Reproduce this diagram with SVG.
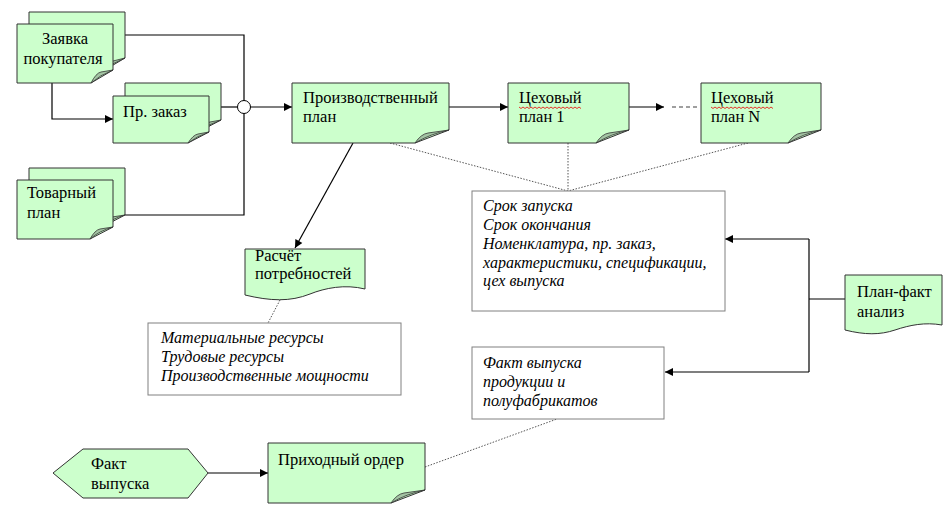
<svg xmlns="http://www.w3.org/2000/svg" width="952" height="519" viewBox="0 0 952 519">
<defs>
<marker id="arr" viewBox="0 0 10 10" refX="10" refY="5" markerWidth="10" markerHeight="8" markerUnits="userSpaceOnUse" orient="auto">
<path d="M0,0 L10,5 L0,10 Z" fill="#000"/>
</marker>
<style>
.pg{fill:#ccffcc;stroke:#333;stroke-width:1}
.fold{fill:#a3c4a3;stroke:#333;stroke-width:0.8}
.box{fill:#fff;stroke:#808080;stroke-width:1}
.ln{fill:none;stroke:#000;stroke-width:1.2}
.dot{fill:none;stroke:#555;stroke-width:1;stroke-dasharray:1.5,1.5}
.t{font-family:"Liberation Serif","Times New Roman","DejaVu Serif",serif;font-size:16.5px;fill:#000}
.i{font-family:"Liberation Serif","Times New Roman","DejaVu Serif",serif;font-size:16px;font-style:italic;fill:#000}
.sq{fill:none;stroke:#e00;stroke-width:0.8}
</style>
</defs>
<rect width="952" height="519" fill="#fff"/>

<g id="connectors">
<polyline class="ln" points="125,35 244,35 244,215 125,215"/>
<line class="ln" x1="221" y1="107" x2="238" y2="107"/>
<polyline class="ln" points="52,83 52,119 113,119" marker-end="url(#arr)"/>
<line class="ln" x1="250" y1="107" x2="292" y2="107" marker-end="url(#arr)"/>
<line class="ln" x1="449" y1="107" x2="508" y2="107" marker-end="url(#arr)"/>
<line class="ln" x1="629" y1="107" x2="664" y2="107" marker-end="url(#arr)"/>
<line x1="672" y1="107" x2="698" y2="107" stroke="#808080" stroke-width="1.5" stroke-dasharray="4,3"/>
<line class="ln" x1="353" y1="143" x2="295" y2="248" marker-end="url(#arr)"/>
<line class="dot" x1="390" y1="143" x2="568" y2="191"/>
<line class="dot" x1="568" y1="143" x2="568" y2="191" stroke="#999"/>
<line class="dot" x1="748" y1="143" x2="568" y2="191"/>
<line class="dot" x1="280" y1="300" x2="268" y2="323"/>
<line class="dot" x1="425" y1="467" x2="557" y2="419"/>
<polyline class="ln" points="845,299 809,299"/>
<polyline class="ln" points="809,239 809,372"/>
<line class="ln" x1="809" y1="239" x2="725" y2="239" marker-end="url(#arr)"/>
<line class="ln" x1="809" y1="372" x2="665" y2="372" marker-end="url(#arr)"/>
<line class="ln" x1="208" y1="473" x2="268" y2="473" marker-end="url(#arr)"/>
<circle cx="244" cy="107" r="6.5" fill="#fff" stroke="#000" stroke-width="1"/>
</g>

<g id="zayavka">
<path class="pg" d="M29,12 H125 V58 L103,71 H29 Z"/>
<path class="fold" d="M103,71 Q108,62 113,61 L125,58 Q112,63 103,71 Z"/>
<path class="pg" d="M17,24 H113 V70 L91,83 H17 Z"/>
<path class="fold" d="M91,83 Q96,73 101,72 L113,70 Q100,75 91,83 Z"/>
<text class="t" x="65" y="44" text-anchor="middle">Заявка</text>
<text class="t" x="63" y="64" text-anchor="middle">покупателя</text>
</g>

<g id="pr-zakaz">
<path class="pg" d="M125,83 H221 V120 L200,131 H125 Z"/>
<path class="fold" d="M200,131 Q205,123 210,122 L221,120 Q209,124 200,131 Z"/>
<path class="pg" d="M113,96 H209 V132 L188,143 H113 Z"/>
<path class="fold" d="M188,143 Q193,135 198,134 L209,132 Q197,136 188,143 Z"/>
<text class="t" x="123" y="117">Пр. заказ</text>
</g>

<g id="tovarny">
<path class="pg" d="M29,168 H125 V215 L102,227 H29 Z"/>
<path class="fold" d="M102,227 Q107,218 112,217 L125,215 Q111,219 102,227 Z"/>
<path class="pg" d="M17,180 H113 V227 L90,239 H17 Z"/>
<path class="fold" d="M90,239 Q95,230 100,229 L113,227 Q99,231 90,239 Z"/>
<text class="t" x="27" y="198">Товарный</text>
<text class="t" x="27" y="218">план</text>
</g>

<g id="proizv-plan">
<path class="pg" d="M292,83 H449 V130 L415,143 H292 Z"/>
<path class="fold" d="M415,143 Q421,134 428,133 L449,130 Q430,134 415,143 Z"/>
<text class="t" x="303" y="103">Производственный</text>
<text class="t" x="303" y="122">план</text>
</g>

<g id="cekh-1">
<path class="pg" d="M508,83 H629 V130 L596,143 H508 Z"/>
<path class="fold" d="M596,143 Q602,134 609,133 L629,130 Q611,134 596,143 Z"/>
<text class="t" x="519" y="103">Цеховый</text>
<path class="sq" d="M519,107 l2,1.5 l2,-1.5 l2,1.5 l2,-1.5 l2,1.5 l2,-1.5 l2,1.5 l2,-1.5 l2,1.5 l2,-1.5 l2,1.5 l2,-1.5 l2,1.5 l2,-1.5 l2,1.5 l2,-1.5 l2,1.5 l2,-1.5 l2,1.5 l2,-1.5 l2,1.5 l2,-1.5 l2,1.5 l2,-1.5 l2,1.5 l2,-1.5 l2,1.5 l2,-1.5 l2,1.5 l2,-1.5 l2,1.5"/>
<text class="t" x="519" y="122">план 1</text>
</g>

<g id="cekh-n">
<path class="pg" d="M701,83 H821 V130 L788,143 H701 Z"/>
<path class="fold" d="M788,143 Q794,134 801,133 L821,130 Q803,134 788,143 Z"/>
<text class="t" x="711" y="103">Цеховый</text>
<path class="sq" d="M711,107 l2,1.5 l2,-1.5 l2,1.5 l2,-1.5 l2,1.5 l2,-1.5 l2,1.5 l2,-1.5 l2,1.5 l2,-1.5 l2,1.5 l2,-1.5 l2,1.5 l2,-1.5 l2,1.5 l2,-1.5 l2,1.5 l2,-1.5 l2,1.5 l2,-1.5 l2,1.5 l2,-1.5 l2,1.5 l2,-1.5 l2,1.5 l2,-1.5 l2,1.5 l2,-1.5 l2,1.5 l2,-1.5 l2,1.5"/>
<text class="t" x="711" y="122">план N</text>
</g>

<g id="srok-box">
<rect class="box" x="472" y="191" width="253" height="120"/>
<text class="i" x="483" y="211">Срок запуска</text>
<text class="i" x="483" y="230">Срок окончания</text>
<text class="i" x="483" y="249">Номенклатура, пр. заказ,</text>
<text class="i" x="483" y="268">характеристики, спецификации,</text>
<text class="i" x="483" y="286">цех выпуска</text>
</g>

<g id="raschet">
<path class="pg" d="M245,249 H365 V289 C345,284 325,288 310,294 C290,302 270,301 245,295 Z"/>
<text class="t" x="255" y="261">Расчёт</text>
<text class="t" x="255" y="279">потребностей</text>
</g>

<g id="resursy-box">
<rect class="box" x="148" y="323" width="253" height="72"/>
<text class="i" x="161" y="343">Материальные ресурсы</text>
<text class="i" x="161" y="362">Трудовые ресурсы</text>
<text class="i" x="161" y="381">Производственные мощности</text>
</g>

<g id="plan-fakt">
<path class="pg" d="M845,275 H942 V325 C925,322 910,325 895,330 C880,335 865,335 845,330 Z"/>
<text class="t" x="857" y="297">План-факт</text>
<text class="t" x="857" y="317">анализ</text>
</g>

<g id="fakt-box">
<rect class="box" x="472" y="347" width="192" height="72"/>
<text class="i" x="483" y="368">Факт выпуска</text>
<text class="i" x="483" y="387">продукции и</text>
<text class="i" x="483" y="406">полуфабрикатов</text>
</g>

<g id="fakt-vypuska">
<polygon class="pg" points="53,473 83,449 188,449 208,473 188,498 83,498"/>
<text class="t" x="91" y="469">Факт</text>
<text class="t" x="91" y="489">выпуска</text>
</g>

<g id="prikhodny-order">
<path class="pg" d="M268,443 H425 V490 L391,503 H268 Z"/>
<path class="fold" d="M391,503 Q397,494 404,493 L425,490 Q406,494 391,503 Z"/>
<text class="t" x="278" y="465">Приходный ордер</text>
</g>
</svg>
